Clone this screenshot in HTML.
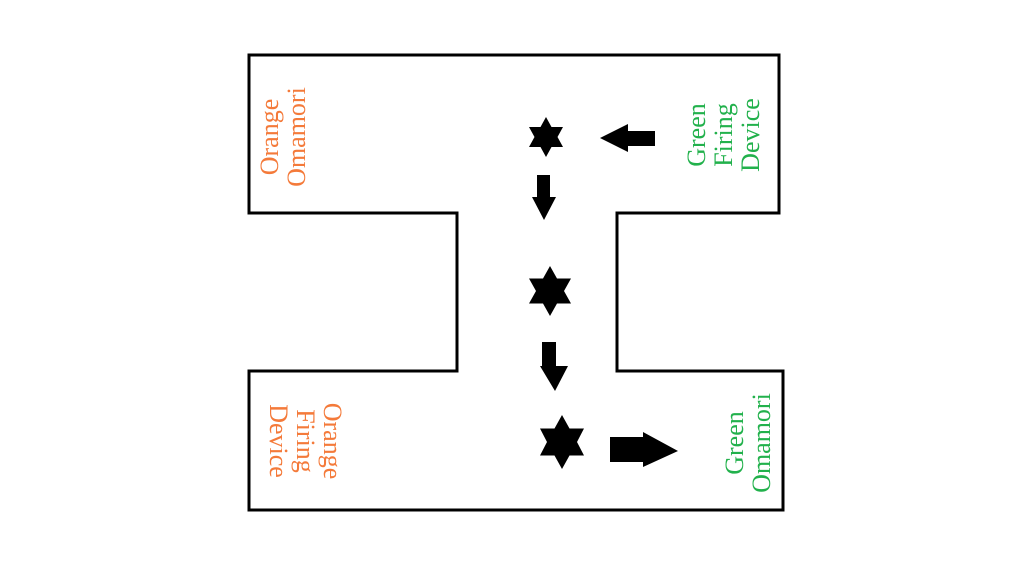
<!DOCTYPE html>
<html><head><meta charset="utf-8"><style>html,body{margin:0;padding:0;background:#fff;}svg{display:block}</style></head>
<body>
<svg width="1024" height="571" viewBox="0 0 1024 571" xmlns="http://www.w3.org/2000/svg">
<rect width="1024" height="571" fill="#fff"/>
<path d="M249 55 H779 V213 H617 V371 H783 V510 H249 V371 H457 V213 H249 Z" fill="none" stroke="#000" stroke-width="3"/>
<g font-family="Liberation Serif, serif" font-size="26" text-anchor="middle">
<g transform="translate(278,137) rotate(-90)" fill="#f47a3a"><text x="0" y="0">Orange</text><text x="0" y="27">Omamori</text></g>
<g transform="translate(705,135) rotate(-90)" fill="#22b14c"><text x="0" y="0">Green</text><text x="0" y="27">Firing</text><text x="0" y="54">Device</text></g>
<g transform="translate(743,443) rotate(-90)" fill="#22b14c"><text x="0" y="0">Green</text><text x="0" y="27">Omamori</text></g>
<g transform="translate(324,441) rotate(90)" fill="#f47a3a"><text x="0" y="0">Orange</text><text x="0" y="27">Firing</text><text x="0" y="54">Device</text></g>
</g>
<g fill="#000">
<polygon points="546,117 551.5,127 563,127 557.5,137 563,147 551.5,147 546,157 540.5,147 529,147 534.5,137 529,127 540.5,127"/>
<polygon points="550,266 557,278.5 571,278.5 564,291 571,303.5 557,303.5 550,316 543,303.5 529,303.5 536,291 529,278.5 543,278.5"/>
<polygon points="562,415 569.5,428.5 584,428.5 577,442 584,455.5 569.5,455.5 562,469 554.5,455.5 540,455.5 547,442 540,428.5 554.5,428.5"/>
<polygon points="655,131 628,131 628,124 600,138 628,152 628,146 655,146"/>
<polygon points="537,175 550,175 550,197 556,197 544,220 532,197 537,197"/>
<polygon points="542,342 556,342 556,366 568,366 555,391 540,366 542,366"/>
<polygon points="610,437 643,437 643,432 678,451 643,467 643,462 610,462"/>
</g>
</svg>
</body></html>
